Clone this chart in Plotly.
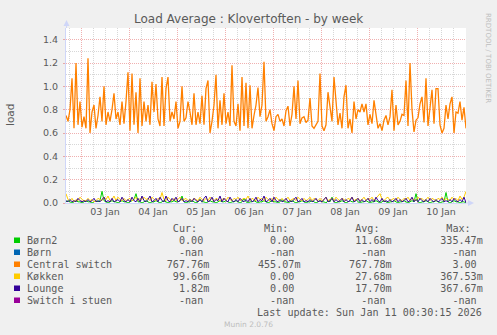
import plotly.graph_objects as go
import pandas as pd

# ---------------- data ----------------
start_time = "2026-01-02 16:30"

central_switch = [
    0.75, 0.70, 0.80, 1.07, 0.64, 1.20, 0.67, 0.87, 0.65, 0.74,
    0.64, 1.24, 0.60, 0.78, 0.84, 0.64, 0.75, 0.91, 0.70, 1.00,
    0.67, 0.78, 0.70, 0.80, 0.94, 0.72, 0.78, 0.67, 0.87, 0.68,
    0.87, 1.12, 0.62, 1.11, 0.67, 0.95, 0.60, 1.07, 0.66, 0.87,
    0.70, 0.84, 0.67, 1.04, 0.78, 1.02, 0.72, 0.66, 1.08, 0.66,
    0.98,
    1.08, 0.70, 0.78, 0.72, 0.87, 0.64, 0.70, 1.00, 0.70, 0.73,
    0.87, 0.78, 0.67, 0.94, 0.67, 0.78, 0.68, 0.92, 0.67, 0.98,
    1.05, 0.60, 0.70, 0.84, 1.10, 0.64, 0.88, 0.67, 0.94, 0.68,
    0.78, 0.66, 1.18, 0.70, 0.66, 0.85, 0.62, 1.08, 0.66, 1.03,
    0.64, 1.01, 0.64, 0.75, 0.84, 0.99, 0.74, 0.84, 1.21, 0.70,
    0.74, 0.80, 0.68, 0.62, 0.74, 0.76, 0.70, 0.72, 0.66, 0.79,
    0.83, 0.66, 0.76, 1.00, 0.72, 1.05, 0.68, 0.73, 0.74, 0.69,
    0.71, 0.90, 0.66, 0.64, 0.67, 0.70, 1.11, 0.66, 0.62, 0.67,
    0.95, 0.84, 0.70, 1.08, 0.84, 0.67, 0.77, 0.64, 0.91, 1.01,
    0.64, 0.72, 0.60, 0.87, 0.72, 0.80, 0.78, 0.85, 0.78,
    0.85, 0.67, 0.76, 0.68, 0.88, 0.76, 0.64, 0.68, 0.62, 0.71,
    0.75, 0.67, 0.74, 0.97, 0.62, 0.84, 0.67, 0.70, 0.76, 0.75,
    1.05, 0.66, 1.20, 0.80, 0.61, 0.71, 0.73, 0.85, 0.91, 0.69,
    1.07, 0.66, 0.85, 0.97, 0.68, 0.98, 0.98, 0.67, 0.60, 0.64,
    0.84, 0.72, 0.85, 0.91, 0.60, 0.78, 0.77, 0.87, 0.71, 0.82,
    0.64,
]

born2 = [
    0.01, 0.02, 0.01, 0.00, 0.01, 0.02, 0.01, 0.01, 0.00, 0.01,
    0.02, 0.01, 0.01, 0.00, 0.01, 0.02, 0.01, 0.02, 0.10, 0.02,
    0.01, 0.00, 0.01, 0.02, 0.01, 0.01, 0.00, 0.01, 0.02, 0.01,
    0.01, 0.00, 0.01, 0.02, 0.03, 0.08, 0.01, 0.01, 0.00, 0.01,
    0.02, 0.01, 0.00, 0.01, 0.01, 0.02, 0.01, 0.00, 0.01, 0.02,
    0.01, 0.00, 0.01, 0.01, 0.02, 0.01, 0.01, 0.02, 0.06, 0.01,
    0.00, 0.01, 0.01, 0.02, 0.01, 0.00, 0.01, 0.03, 0.01, 0.01,
    0.00, 0.01, 0.02, 0.01, 0.01, 0.00, 0.01, 0.02, 0.01, 0.01,
    0.02, 0.01, 0.00, 0.01, 0.01, 0.02, 0.01, 0.00, 0.01, 0.04,
    0.01, 0.00, 0.01, 0.01, 0.02, 0.01, 0.00, 0.01, 0.01, 0.02,
    0.01, 0.00, 0.01, 0.02, 0.01, 0.01, 0.00, 0.01, 0.03, 0.01,
    0.01, 0.00, 0.01, 0.02, 0.01, 0.00, 0.01, 0.01, 0.02, 0.01,
    0.00, 0.01, 0.01, 0.02, 0.01, 0.00, 0.01, 0.02, 0.01, 0.01,
    0.00, 0.02, 0.01, 0.05, 0.01, 0.00, 0.01, 0.01, 0.02, 0.01,
    0.00, 0.01, 0.02, 0.01, 0.01, 0.03, 0.01, 0.00, 0.01, 0.01,
    0.02, 0.01, 0.00, 0.01, 0.01, 0.02, 0.01, 0.00, 0.01, 0.02,
    0.01, 0.00, 0.01, 0.01, 0.02, 0.01, 0.00, 0.01, 0.01, 0.02,
    0.01, 0.00, 0.01, 0.02, 0.01, 0.08, 0.01, 0.00, 0.01, 0.01,
    0.02, 0.01, 0.00, 0.01, 0.01, 0.02, 0.01, 0.00, 0.01, 0.01,
    0.09, 0.01, 0.00, 0.01, 0.02, 0.01, 0.01, 0.00, 0.01, 0.01,
    0.00,
]

kokken = [
    0.08, 0.03, 0.02, 0.04, 0.01, 0.03, 0.02, 0.05, 0.03, 0.02,
    0.02, 0.04, 0.02, 0.03, 0.01, 0.02, 0.04, 0.03, 0.02, 0.05,
    0.03, 0.06, 0.02, 0.03, 0.06, 0.02, 0.05, 0.03, 0.02, 0.04,
    0.02, 0.03, 0.04, 0.02, 0.03, 0.05, 0.02, 0.04, 0.03, 0.05,
    0.03, 0.04, 0.02, 0.05, 0.03, 0.02, 0.04, 0.03, 0.09, 0.03,
    0.02, 0.05, 0.03, 0.02, 0.04, 0.02, 0.03, 0.05, 0.02, 0.03,
    0.04, 0.02, 0.03, 0.02, 0.04, 0.03, 0.02, 0.05, 0.03, 0.02,
    0.04, 0.02, 0.05, 0.03, 0.02, 0.04, 0.03, 0.02, 0.03, 0.04,
    0.02, 0.05, 0.03, 0.02, 0.04, 0.03, 0.05, 0.02, 0.03, 0.04,
    0.03, 0.06, 0.02, 0.04, 0.03, 0.02, 0.05, 0.03, 0.04, 0.02,
    0.05, 0.03, 0.02, 0.04, 0.02, 0.05, 0.03, 0.02, 0.04, 0.02,
    0.03, 0.05, 0.02, 0.03, 0.04, 0.02, 0.05, 0.03, 0.02, 0.04,
    0.02, 0.03, 0.05, 0.02, 0.04, 0.03, 0.02, 0.04, 0.02, 0.03,
    0.05, 0.02, 0.03, 0.04, 0.02, 0.05, 0.03, 0.02, 0.04, 0.03,
    0.02, 0.04, 0.03, 0.05, 0.02, 0.03, 0.04, 0.02, 0.03, 0.05,
    0.02, 0.04, 0.03, 0.05, 0.02, 0.04, 0.06, 0.08, 0.03, 0.02,
    0.04, 0.05, 0.02, 0.03, 0.04, 0.02, 0.05, 0.03, 0.02, 0.04,
    0.03, 0.05, 0.02, 0.04, 0.03, 0.02, 0.05, 0.03, 0.04, 0.02,
    0.03, 0.05, 0.02, 0.04, 0.03, 0.02, 0.04, 0.03, 0.05, 0.02,
    0.04, 0.03, 0.02, 0.05, 0.03, 0.04, 0.02, 0.06, 0.03, 0.05,
    0.10,
]

lounge = [
    0.02, 0.01, 0.03, 0.01, 0.02, 0.01, 0.04, 0.02, 0.01, 0.02,
    0.01, 0.03, 0.01, 0.02, 0.04, 0.01, 0.02, 0.01, 0.03, 0.05,
    0.01, 0.02, 0.01, 0.04, 0.01, 0.02, 0.03, 0.01, 0.05, 0.02,
    0.01, 0.03, 0.01, 0.05, 0.02, 0.01, 0.04, 0.01, 0.06, 0.02,
    0.01, 0.03, 0.06, 0.01, 0.02, 0.04, 0.01, 0.05, 0.02, 0.01,
    0.06, 0.02, 0.01, 0.04, 0.02, 0.05, 0.01, 0.02, 0.04, 0.01,
    0.02, 0.01, 0.03, 0.01, 0.04, 0.02, 0.01, 0.03, 0.01, 0.04,
    0.06, 0.01, 0.02, 0.05, 0.01, 0.03, 0.02, 0.06, 0.01, 0.04,
    0.02, 0.01, 0.05, 0.02, 0.01, 0.03, 0.01, 0.04, 0.02, 0.01,
    0.03, 0.01, 0.04, 0.01, 0.02, 0.05, 0.01, 0.03, 0.02, 0.06,
    0.01, 0.02, 0.04, 0.01, 0.05, 0.02, 0.01, 0.03, 0.01, 0.02,
    0.04, 0.01, 0.02, 0.01, 0.03, 0.05, 0.01, 0.02, 0.04, 0.01,
    0.02, 0.01, 0.03, 0.01, 0.02, 0.04, 0.01, 0.02, 0.01, 0.03,
    0.05, 0.01, 0.02, 0.04, 0.01, 0.03, 0.01, 0.02, 0.04, 0.01,
    0.03, 0.01, 0.02, 0.05, 0.01, 0.02, 0.04, 0.01, 0.03, 0.01,
    0.02, 0.04, 0.01, 0.03, 0.01, 0.05, 0.02, 0.01, 0.04, 0.01,
    0.02, 0.01, 0.03, 0.01, 0.02, 0.04, 0.01, 0.03, 0.01, 0.02,
    0.04, 0.01, 0.02, 0.05, 0.01, 0.03, 0.01, 0.04, 0.02, 0.01,
    0.03, 0.01, 0.04, 0.02, 0.01, 0.03, 0.01, 0.02, 0.04, 0.01,
    0.02, 0.01, 0.03, 0.01, 0.04, 0.02, 0.01, 0.03, 0.01, 0.05,
    0.002,
]

series_names = ["Børn2", "Børn", "Central switch", "Køkken", "Lounge", "Switch i stuen"]
series_colors = ["#00CC00", "#0066B3", "#FF8000", "#FFCC00", "#330099", "#990099"]
series_widths = [1, 1, 1.3, 1, 1, 1]
stat_cur = ["0.00", "-nan", "767.76m", "99.66m", "1.82m", "-nan"]
stat_min = ["0.00", "-nan", "455.07m", "0.00", "0.00", "-nan"]
stat_avg = ["11.68m", "-nan", "767.78m", "27.68m", "17.70m", "-nan"]
stat_max = ["335.47m", "-nan", "3.00", "367.53m", "367.67m", "-nan"]

title_text = "Load Average : Klovertoften - by week"
y_label = "load"
last_update = "Last update: Sun Jan 11 00:30:15 2026"
munin_version = "Munin 2.0.76"
side_text = "RRDTOOL / TOBI OETIKER"

times = pd.date_range(start_time, periods=len(central_switch), freq="h")
series_values = [born2, None, central_switch, kokken, lounge, None]

# ---------------- geometry helpers (pixel -> paper) ----------------
W, H = 497, 335
PL, PR, PT, PB = 66, 466, 28, 203


def X(px):
    return (px - PL) / (PR - PL)


def Y(py):
    return (PB - py) / (PB - PT)


FONT = "DejaVu Sans"
MONO = "DejaVu Sans Mono"
TXT = "#5a5a5a"
AXIS_C = "#CFD6F8"
MGRID = "rgba(222,80,80,0.45)"
GRID = "rgba(140,140,140,0.35)"

fig = go.Figure()
for name, color, width, vals in zip(series_names, series_colors, series_widths, series_values):
    if vals is None:
        continue
    fig.add_trace(go.Scatter(x=times, y=vals, mode="lines", name=name,
                             line=dict(color=color, width=width),
                             hoverinfo="skip", showlegend=False))

fig.update_layout(
    width=W, height=H, autosize=False,
    margin=dict(l=PL, r=W - PR, t=PT, b=H - PB, pad=0),
    paper_bgcolor="#F0F0F0", plot_bgcolor="#FFFFFF",
    showlegend=False,
)

fig.update_xaxes(
    type="date", range=[times[0], times[-1]],
    tick0="2026-01-03", dtick=86400000, tickformat="%d %b",
    ticklabelmode="period",
    showgrid=True, gridcolor=MGRID, griddash="1px,1px", gridwidth=1,
    minor=dict(dtick=6 * 3600000, showgrid=True, gridcolor=GRID,
               griddash="1px,1px", gridwidth=1),
    showline=True, linecolor=AXIS_C, linewidth=1, zeroline=False,
    ticks="", tickfont=dict(family=FONT, size=9.5, color=TXT),
)
fig.update_yaxes(
    range=[0, 1.5], tick0=0, dtick=0.2, tickformat=".1f",
    showgrid=True, gridcolor=MGRID, griddash="1px,1px", gridwidth=1,
    minor=dict(dtick=0.1, showgrid=True, gridcolor=GRID,
               griddash="1px,1px", gridwidth=1),
    showline=True, linecolor=AXIS_C, linewidth=1, zeroline=False,
    ticks="outside", ticklen=2, tickcolor=MGRID,
    ticklabelstandoff=3,
    tickfont=dict(family=FONT, size=9.5, color=TXT),
)

shapes = []
# axis arrows
shapes.append(dict(type="line", xref="paper", yref="paper",
                   x0=X(66.5), x1=X(66.5), y0=Y(28), y1=Y(24),
                   line=dict(color=AXIS_C, width=1)))
shapes.append(dict(type="path", xref="paper", yref="paper",
                   path=f"M {X(66.5)} {Y(20)} L {X(63.5)} {Y(26)} L {X(69.5)} {Y(26)} Z",
                   fillcolor=AXIS_C, line=dict(color=AXIS_C, width=0)))
shapes.append(dict(type="line", xref="paper", yref="paper",
                   x0=X(466), x1=X(469), y0=Y(203), y1=Y(203),
                   line=dict(color=AXIS_C, width=1)))
shapes.append(dict(type="path", xref="paper", yref="paper",
                   path=f"M {X(474)} {Y(203)} L {X(468)} {Y(200)} L {X(468)} {Y(206)} Z",
                   fillcolor=AXIS_C, line=dict(color=AXIS_C, width=0)))

annotations = []
annotations.append(dict(text=title_text, xref="paper", yref="paper",
                        x=X(248.5), y=Y(19), xanchor="center", yanchor="middle",
                        showarrow=False, font=dict(family=FONT, size=12, color=TXT)))
annotations.append(dict(text=y_label, xref="paper", yref="paper",
                        x=X(10), y=Y(115), xanchor="center", yanchor="middle",
                        textangle=-90, showarrow=False,
                        font=dict(family=FONT, size=10.5, color=TXT)))
annotations.append(dict(text=side_text, xref="paper", yref="paper",
                        x=X(488), y=Y(58), xanchor="center", yanchor="middle",
                        textangle=90, showarrow=False,
                        font=dict(family=FONT, size=7, color="#BEBEBE")))

NB = "\u00a0"
MONO_SIZE = 10.1
ROW0 = 228.5
ROW_STEP = 12


def mono(s):
    return s.replace(" ", NB)


def fmt(v):
    s = v if v.endswith("m") else v + " "
    return s.rjust(7)


header = " " * 24 + "Cur:" + " " * 11 + "Min:" + " " * 11 + "Avg:" + " " * 11 + "Max:"
annotations.append(dict(text=mono(header), xref="paper", yref="paper",
                        x=X(26), y=Y(ROW0), xanchor="left", yanchor="middle",
                        showarrow=False, borderpad=0,
                        font=dict(family=MONO, size=MONO_SIZE, color=TXT)))
for i, name in enumerate(series_names):
    row_y = ROW0 + ROW_STEP * (i + 1)
    line = (name.ljust(23) + fmt(stat_cur[i]) + " " * 8 + fmt(stat_min[i]) + " " * 8
            + fmt(stat_avg[i]) + " " * 8 + fmt(stat_max[i]))
    annotations.append(dict(text=mono(line), xref="paper", yref="paper",
                            x=X(26), y=Y(row_y), xanchor="left", yanchor="middle",
                            showarrow=False, borderpad=0,
                            font=dict(family=MONO, size=MONO_SIZE, color=TXT)))
    shapes.append(dict(type="rect", xref="paper", yref="paper",
                       x0=X(14), x1=X(20), y0=Y(row_y + 2.5), y1=Y(row_y - 3),
                       fillcolor=series_colors[i], line=dict(width=0)))

annotations.append(dict(text=mono(last_update), xref="paper", yref="paper",
                        x=X(483), y=Y(ROW0 + ROW_STEP * 7), xanchor="right", yanchor="middle",
                        showarrow=False, borderpad=0,
                        font=dict(family=MONO, size=MONO_SIZE, color=TXT)))
annotations.append(dict(text=munin_version, xref="paper", yref="paper",
                        x=X(248), y=Y(324), xanchor="center", yanchor="middle",
                        showarrow=False,
                        font=dict(family=FONT, size=7.5, color="#BDBDBD")))

fig.update_layout(shapes=shapes, annotations=annotations)
fig.write_html("out.html")
